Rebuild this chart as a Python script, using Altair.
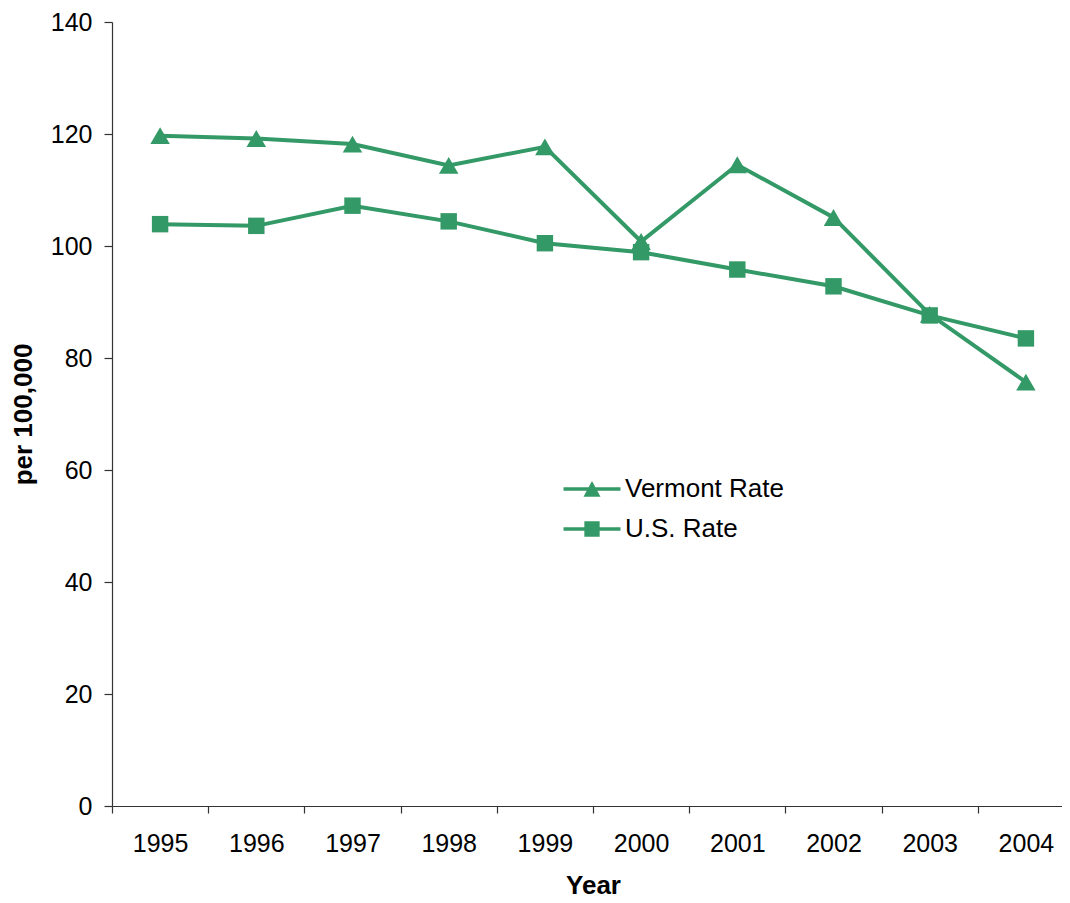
import altair as alt
import pandas as pd

years = ["1995", "1996", "1997", "1998", "1999", "2000", "2001", "2002", "2003", "2004"]
vermont_rate = [119.7, 119.2, 118.2, 114.4, 117.7, 100.8, 114.5, 105.1, 87.8, 75.7]
us_rate = [103.9, 103.6, 107.2, 104.4, 100.5, 98.9, 95.8, 92.8, 87.6, 83.5]
series_names = ["Vermont Rate", "U.S. Rate"]

GREEN = "#339966"
FONT = "Liberation Sans"

rows = []
for y, v in zip(years, vermont_rate):
    rows.append({"Year": y, "Rate": v, "Series": series_names[0]})
for y, v in zip(years, us_rate):
    rows.append({"Year": y, "Rate": v, "Series": series_names[1]})
df = pd.DataFrame(rows)

x_enc = alt.X(
    "Year:O",
    sort=years,
    bandPosition=0.5,
    scale=alt.Scale(type="band", paddingInner=0, paddingOuter=0, range=[0, 962]),
    axis=alt.Axis(
        title="Year",
        labelAngle=0,
        tickBand="extent",
        tickSize=7,
        labelPadding=18,
        titlePadding=16,
        titleX=481,
    ),
)
y_enc = alt.Y(
    "Rate:Q",
    scale=alt.Scale(domain=[0, 140]),
    axis=alt.Axis(
        title="per 100,000",
        values=[0, 20, 40, 60, 80, 100, 120, 140],
        tickSize=8,
        labelPadding=12,
        titlePadding=14,
        grid=False,
    ),
)

base = alt.Chart(df)

lines = base.mark_line(color=GREEN, strokeWidth=4).encode(
    x=x_enc, y=y_enc, detail="Series:N"
)

tri_points = (
    base.transform_filter(alt.datum.Series == series_names[0])
    .mark_point(filled=True, color=GREEN, opacity=1, size=380, shape="triangle-up")
    .encode(x=x_enc, y=y_enc)
)
sq_points = (
    base.transform_filter(alt.datum.Series == series_names[1])
    .mark_point(filled=True, color=GREEN, opacity=1, size=270, shape="square")
    .encode(x=x_enc, y=y_enc)
)

bar = "M-3.35,-0.2L3.35,-0.2L3.35,0.2L-3.35,0.2Z"
tri_path = bar + "M0,-0.95L1,0.9L-1,0.9Z"
sq_path = bar + "M-0.9,-0.9L0.9,-0.9L0.9,0.9L-0.9,0.9Z"

legend_layer = (
    base.transform_filter("false")
    .mark_point(filled=True, fill=GREEN, opacity=1)
    .encode(
        x=x_enc,
        y=y_enc,
        shape=alt.Shape(
            "Series:N",
            scale=alt.Scale(domain=series_names, range=[tri_path, sq_path]),
            legend=alt.Legend(
                title=None,
                orient="none",
                legendX=467,
                legendY=454,
                symbolSize=289,
                symbolFillColor=GREEN,
                symbolOpacity=1,
                labelFont=FONT,
                labelFontSize=26,
                labelColor="black",
                labelOffset=20,
                rowPadding=14,
            ),
        ),
    )
)

chart = (
    alt.layer(lines, tri_points, sq_points, legend_layer)
    .properties(
        width=950,
        height=784,
        autosize=alt.AutoSizeParams(type="none"),
        padding={"left": 104, "top": 14, "right": 0, "bottom": 95},
        background="white",
    )
    .configure_view(stroke=None)
    .configure_axis(
        labelFont=FONT,
        labelFontSize=25,
        labelColor="black",
        titleFont=FONT,
        titleFontSize=26,
        titleFontWeight="bold",
        titleColor="black",
        domainColor="#333333",
        tickColor="#333333",
        domainWidth=1.2,
        tickWidth=1.2,
    )
)

chart.save("out.html", embed_options={"renderer": "svg", "actions": False})
